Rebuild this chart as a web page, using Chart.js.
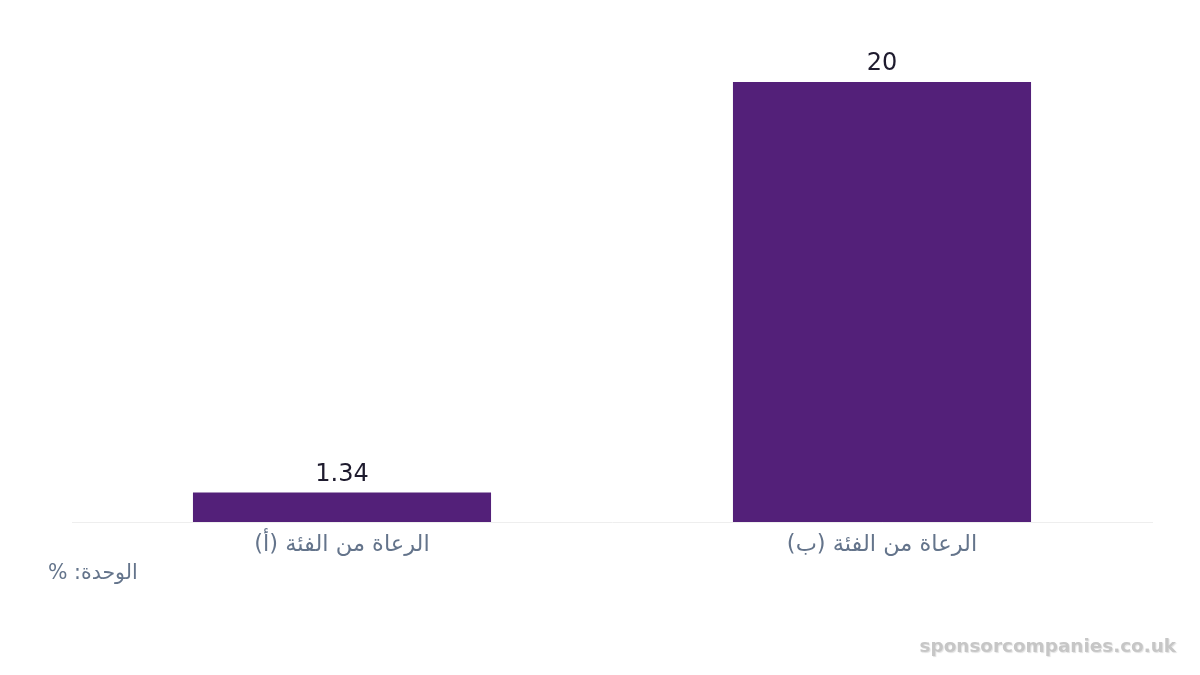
<!DOCTYPE html>
<html lang="ar">
<head>
<meta charset="utf-8">
<script src="https://cdn.jsdelivr.net/npm/chart.js@4/dist/chart.umd.min.js"></script>
<style>
  html, body { margin: 0; padding: 0; background: #ffffff; }
  #wrap { position: relative; width: 1200px; height: 675px; }
  #unit {
    position: absolute; left: 48px; top: 560px;
    font: 20.5px "DejaVu Sans", sans-serif; color: #64748b;
    direction: rtl; white-space: nowrap; line-height: 24px;
  }
  #mark {
    position: absolute; right: 24px; top: 634px;
    font: bold 18.4px "DejaVu Sans", sans-serif; color: #c6c6c6;
    text-shadow: 1px 1px 1px rgba(0,0,0,0.12); line-height: 24px;
  }
</style>
</head>
<body>
<div id="wrap">
  <canvas id="chart" width="1200" height="675"></canvas>
  <div id="unit">الوحدة: %</div>
  <div id="mark">sponsorcompanies.co.uk</div>
</div>
<script>
"use strict";

/* ── Data ───────────────────────────────────────────────── */
const categories = ["الرعاة من الفئة (أ)", "الرعاة من الفئة (ب)"];
const values     = [1.34, 20];
const yMax       = 20;

/* ── Value labels above bars ────────────────────────────── */
const valueLabels = {
  id: "valueLabels",
  afterDatasetsDraw(chart) {
    const ctx = chart.ctx;
    const meta = chart.getDatasetMeta(0);
    ctx.save();
    ctx.font = '24px "DejaVu Sans", sans-serif';
    ctx.fillStyle = "#1e1b2e";
    ctx.textAlign = "center";
    ctx.textBaseline = "bottom";
    meta.data.forEach((bar, i) => {
      ctx.fillText(String(values[i]), bar.x, bar.y - 6);
    });
    ctx.restore();
  },
};

const ctx = document.getElementById("chart").getContext("2d");
new Chart(ctx, {
  type: "bar",
  data: {
    labels: categories,
    datasets: [{
      data: values,
      backgroundColor: "#532079",
      borderWidth: 0,
      categoryPercentage: 1,
      barPercentage: 0.552,
    }],
  },
  options: {
    responsive: false,
    animation: false,
    layout: { padding: { left: 72, right: 48, top: 82, bottom: 114 } },
    plugins: {
      legend: { display: false },
      tooltip: { enabled: false },
    },
    scales: {
      x: {
        grid: { display: false },
        border: { display: true, color: "#eeeeee", width: 1 },
        ticks: {
          color: "#64748b",
          font: { family: "DejaVu Sans", size: 22.5 },
          padding: 2,
          maxRotation: 0,
        },
      },
      y: {
        display: false,
        min: 0,
        max: yMax,
      },
    },
  },
  plugins: [valueLabels],
});
</script>
</body>
</html>
